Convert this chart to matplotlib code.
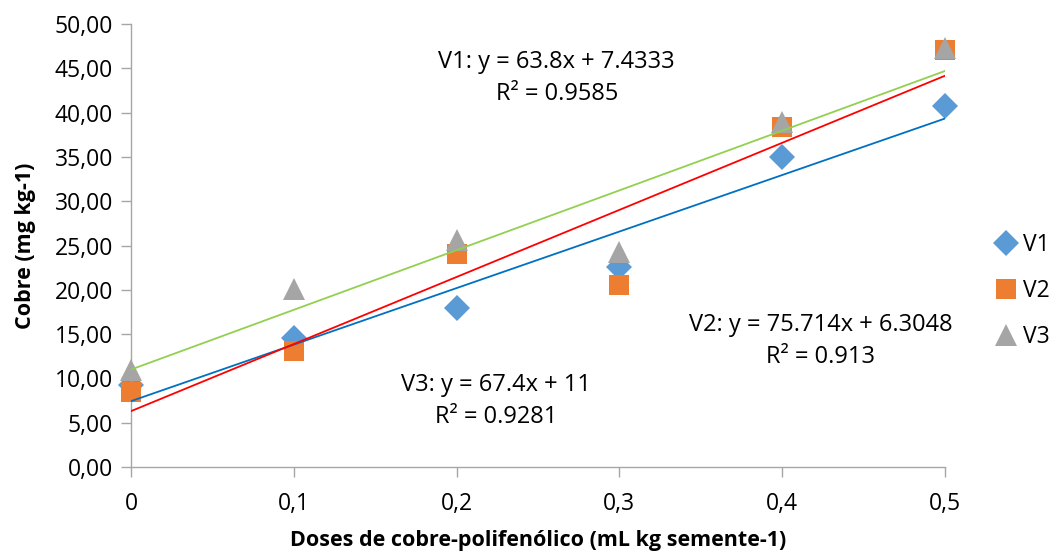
import numpy as np
import matplotlib
matplotlib.use("Agg")
import matplotlib.pyplot as plt
from matplotlib.ticker import FuncFormatter

# doses (mL kg semente-1)
doses = [0.0, 0.1, 0.2, 0.3, 0.4, 0.5]

# cobre (mg kg-1) per variety
v1 = [9.3, 14.6, 17.9, 22.6, 35.0, 40.7]
v2 = [8.5, 13.1, 24.0, 20.5, 38.4, 47.1]
v3 = [11.0, 20.1, 25.6, 24.3, 38.9, 47.3]

# trendline coefficients as printed on the chart
slopes = [63.8, 75.714, 67.4]
intercepts = [7.4333, 6.3048, 11.0]
r2 = ["0.9585", "0.913", "0.9281"]
series_names = ["V1", "V2", "V3"]

marker_colors = ["#5b9bd5", "#ed7d31", "#a5a5a5"]
markers = ["D", "s", "^"]
marker_sizes = [13.5, 14, 16]
line_colors = ["#0070c0", "#ff0000", "#92d050"]

FONT = "Open Sans"
plt.rcParams["font.family"] = [FONT, "DejaVu Sans"]
FS = 16.5

fig = plt.figure(figsize=(10.56, 5.53), dpi=100)
ax = fig.add_axes([131 / 1056, 1 - 467 / 553, (945 - 131) / 1056, (467 - 24) / 553])

all_y = [v1, v2, v3]
for i, ys in enumerate(all_y):
    ax.plot(doses, ys, linestyle="none", marker=markers[i], markersize=marker_sizes[i],
            color=marker_colors[i], markeredgewidth=0, label=series_names[i], zorder=2 + i,
            clip_on=False)

# trendlines from the printed equations
xfit = np.array([doses[0], doses[-1]])
for i in range(3):
    ax.plot(xfit, slopes[i] * xfit + intercepts[i], color=line_colors[i], lw=1.3, zorder=6)

ax.set_xlim(0, 0.5)
ax.set_ylim(0, 50)
ax.set_xticks(doses)
ax.set_yticks(np.arange(0, 50.1, 5))

def fmt_x(v, pos):
    return "0" if v == 0 else f"{v:.1f}".replace(".", ",")

def fmt_y(v, pos):
    return f"{v:.2f}".replace(".", ",")

ax.xaxis.set_major_formatter(FuncFormatter(fmt_x))
ax.yaxis.set_major_formatter(FuncFormatter(fmt_y))

for s in ["top", "right"]:
    ax.spines[s].set_visible(False)
for s in ["left", "bottom"]:
    ax.spines[s].set_color("#a6a6a6")
    ax.spines[s].set_linewidth(1.0)
ax.tick_params(axis="both", colors="#a6a6a6", labelcolor="black", labelsize=FS,
               length=7, width=1.0)
ax.tick_params(axis="x", pad=11)
ax.tick_params(axis="y", pad=6)

ax.set_xlabel("Doses de cobre-polifenólico (mL kg semente-1)", fontsize=15.5,
              fontweight="bold", va="center")
ax.xaxis.set_label_coords(0.5, -0.165)
ax.set_ylabel("Cobre (mg kg-1)", fontsize=15.5, fontweight="bold", va="center")
ax.yaxis.set_label_coords(-0.13, 0.5)

# equation labels: (x center, y line 1, y line 2) in data coordinates
label_pos = [(0.2615, 45.7, 42.1), (0.4235, 16.0, 12.4), (0.2245, 9.25, 5.64)]
for i in range(3):
    x, y1, y2 = label_pos[i]
    eq = f"{series_names[i]}: y = {slopes[i]:g}x + {intercepts[i]:g}"
    ax.text(x, y1, eq, ha="center", va="center", fontsize=FS + 0.5, zorder=7)
    ax.text(x, y2, f"R² = {r2[i]}", ha="center", va="center", fontsize=FS + 0.5, zorder=7)

leg = ax.legend(loc="center left", bbox_to_anchor=(1.058, 0.397), frameon=False,
                fontsize=FS, handletextpad=0.15, labelspacing=0.95, handlelength=1.2,
                borderaxespad=0, borderpad=0)

fig.savefig("out.png", dpi=100)
